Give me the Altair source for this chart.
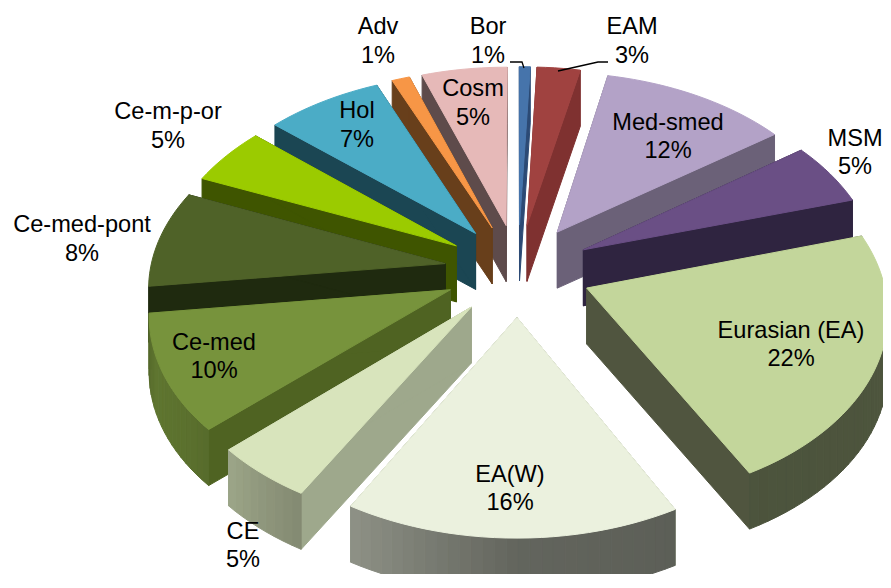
import math
import altair as alt
import numpy as np

# ---- chart values -------------------------------------------------
names = ["Bor", "EAM", "Med-smed", "MSM", "Eurasian (EA)", "EA(W)", "CE", "Ce-med",
         "Ce-med-pont", "Ce-m-p-or", "Hol", "Adv", "Cosm"]
# shares (labels show them rounded)
shares = [0.67, 2.67, 11.67, 5.4, 21.8, 16.0, 4.83, 10.0, 8.33, 5.0, 7.22, 1.1, 5.29]
top_colors = ["#4674AB", "#A04240", "#B3A2C7", "#6A4F85", "#C3D69B", "#EBF1DE", "#D8E4BC",
              "#77933C", "#4F6228", "#9BCB00", "#4BACC6", "#F79646", "#E6B9B8"]
edge_colors = ["#2C4A75", "#7F3130", "#6B6178", "#2F2440", "#50553F", "#A0AA8C", "#9EA88C",
               "#4F6322", "#1F2A0F", "#3F5500", "#1B4653", "#683F1B", "#5E4B4B"]
# label position (centre of the two-line block)
label_x = [488, 632, 668, 855, 791, 510, 243, 214, 82, 168, 357, 378, 473]
label_y = [41.5, 41.5, 137, 153, 345, 489, 546, 357, 239.5, 126.5, 125.5, 41.5, 103.5]

# ---- pie layout ---------------------------------------------------
CX, CY = 518, 270
A, B, K = 295, 185, 0.11
EXPLODE = 0.25
DEPTH = 56
START = 0.0
LINE = 28.7
total = sum(shares)


def project(x, y):
    w = 1 + K * y
    return [CX + A * x / w, CY - B * y / w]


def shade(angle):
    return float(np.interp(angle % 360,
                           [0, 90, 150, 180, 212, 232, 250, 270, 360],
                           [.42, .40, .39, .42, .62, .76, .80, .66, .42]))


def darker(color, f):
    rgb = [int(color[i:i + 2], 16) for i in (1, 3, 5)]
    return "#" + "".join(f"{min(255, round(c * f)):02x}" for c in rgb)


def feature(ring, color):
    return {"type": "Feature",
            "geometry": {"type": "Polygon", "coordinates": [ring + [ring[0]]]},
            "properties": {"c": color}}


def down(p):
    return [p[0], p[1] + DEPTH]


slices = []
cum = 0.0
for name, share, top, edge in zip(names, shares, top_colors, edge_colors):
    a0 = START + cum / total * 360
    a1 = START + (cum + share) / total * 360
    cum += share
    mid = math.radians((a0 + a1) / 2)
    ox, oy = EXPLODE * math.sin(mid), EXPLODE * math.cos(mid)
    angs = np.linspace(a0, a1, max(3, int((a1 - a0) / 2) + 2))
    rim = [project(ox + math.sin(math.radians(t)), oy + math.cos(math.radians(t))) for t in angs]
    apex = project(ox, oy)
    feats = [feature([apex, rim[0], down(rim[0]), down(apex)], edge),
             feature([apex, rim[-1], down(rim[-1]), down(apex)], edge)]
    for i in range(len(rim) - 1):
        # only the part of the outer wall that faces the viewer
        if rim[i + 1][0] < rim[i][0] and abs(((angs[i] + angs[i + 1]) / 2) % 360 - 180) < 100:
            f = shade((angs[i] + angs[i + 1]) / 2)
            feats.append(feature([rim[i], rim[i + 1], down(rim[i + 1]), down(rim[i])], darker(top, f)))
    feats.append(feature([apex] + rim, top))
    # back slices are painted first
    slices.append((abs(((a0 + a1) / 2) % 360 - 180), feats))

features = []
for _, feats in sorted(slices, key=lambda s: -s[0]):
    features.extend(feats)

proj = dict(type="identity", scale=1, translate=[-8, -8])

pie = alt.Chart(alt.Data(values=features)).mark_geoshape(strokeWidth=1).encode(
    fill=alt.Color("properties.c:N", scale=None),
    stroke=alt.Color("properties.c:N", scale=None),
).project(**proj)

leaders = [
    {"type": "Feature", "properties": {},
     "geometry": {"type": "LineString", "coordinates": [[510, 62], [522, 62], [524, 68]]}},
    {"type": "Feature", "properties": {},
     "geometry": {"type": "LineString", "coordinates": [[608, 62], [598, 62], [558, 71]]}},
]
leader = alt.Chart(alt.Data(values=leaders)).mark_geoshape(
    filled=False, stroke="black", strokeWidth=1.3).project(**proj)

rows = []
for name, share, x, y in zip(names, shares, label_x, label_y):
    rows.append({"t": name, "lon": x, "lat": y - LINE / 2})
    rows.append({"t": f"{round(share)}%", "lon": x, "lat": y + LINE / 2})

text = alt.Chart(alt.Data(values=rows)).mark_text(
    font="Liberation Sans", fontSize=23.6, color="black", align="center", baseline="middle"
).encode(longitude="lon:Q", latitude="lat:Q", text="t:N").project(**proj)

chart = alt.layer(pie, leader, text).properties(
    width=875, height=566, padding=0, autosize="none"
).configure_view(stroke=None)

chart.save("out.html", embed_options={"renderer": "svg", "actions": False})
